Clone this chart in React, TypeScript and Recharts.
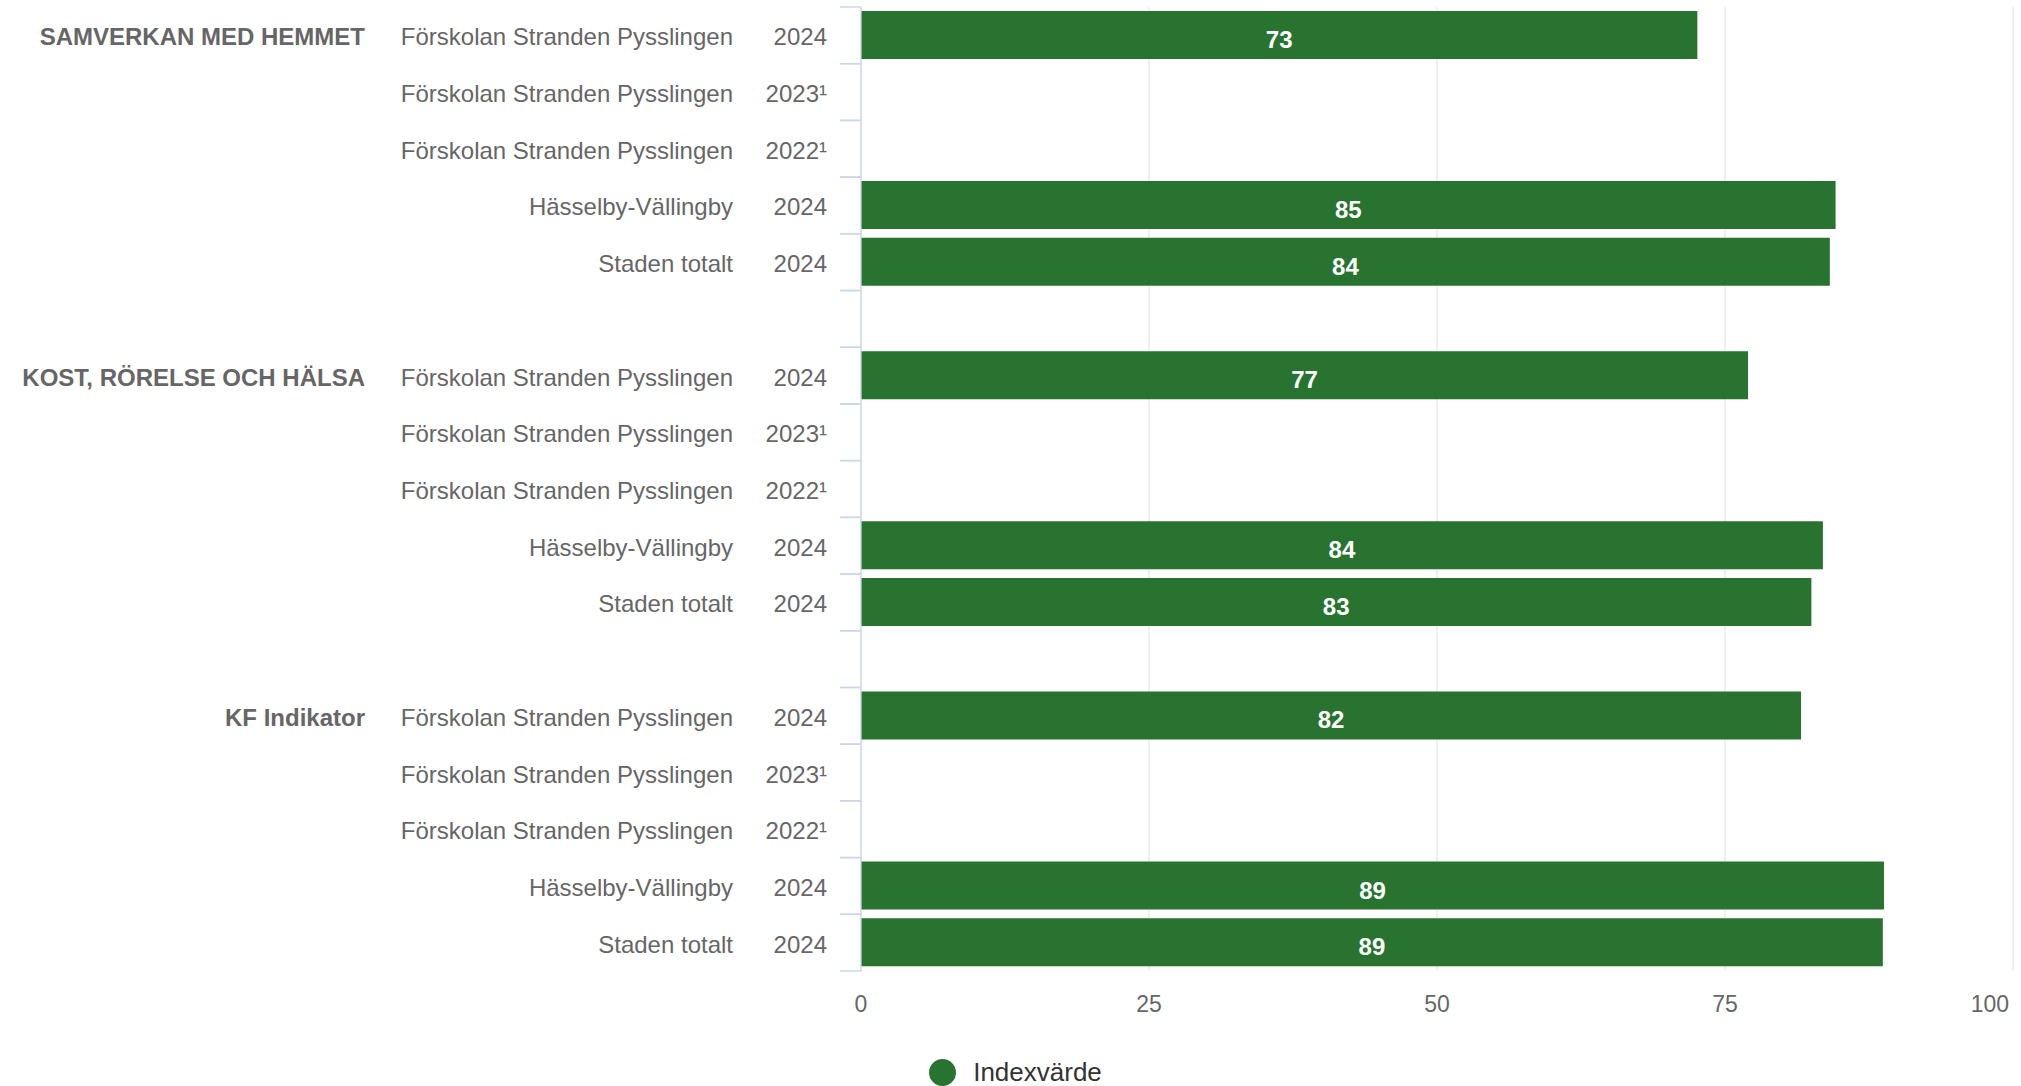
import { BarChart, Bar, XAxis, YAxis, CartesianGrid, Legend, LabelList } from 'recharts'

const groups = ['SAMVERKAN MED HEMMET', 'KOST, RÖRELSE OCH HÄLSA', 'KF Indikator']
const units = [
  'Förskolan Stranden Pysslingen',
  'Förskolan Stranden Pysslingen',
  'Förskolan Stranden Pysslingen',
  'Hässelby-Vällingby',
  'Staden totalt',
]
const years = ['2024', '2023¹', '2022¹', '2024', '2024']
const samverkanValues = [72.6, null, null, 84.6, 84.1]
const kostValues = [77.0, null, null, 83.5, 82.5]
const kfValues = [81.6, null, null, 88.8, 88.7]
const xTicks = [0, 25, 50, 75, 100]

const GREEN = '#27732f'
const FONT = '"Liberation Sans", Arial, sans-serif'
const W = 2021
const H = 1086
const MARGIN = { top: 7, right: 8, bottom: 55, left: 0 }
const X_AXIS_H = 60
const Y_AXIS_W = 861

type Row = { id: string; group: string; unit: string; year: string; value: number | null }

const groupValues = [samverkanValues, kostValues, kfValues]
const rows: Row[] = []
groups.forEach((g, gi) => {
  units.forEach((u, i) => {
    rows.push({ id: `${gi}-${i}`, group: i === 0 ? g : '', unit: u, year: years[i], value: groupValues[gi][i] })
  })
  if (gi < groups.length - 1) rows.push({ id: `gap-${gi}`, group: '', unit: '', year: '', value: null })
})

const plotH = H - MARGIN.top - MARGIN.bottom - X_AXIS_H
const HALF = plotH / rows.length / 2

function YTick(props: any) {
  const { x, y, payload } = props
  const row = rows.find((r) => r.id === payload.value)
  const half = payload.offset || HALF
  return (
    <g fontFamily={FONT} fontSize={24}>
      <line x1={x - 21} x2={x} y1={y - half} y2={y - half} stroke="#ccd6eb" strokeWidth={1.5} />
      <line x1={x - 21} x2={x} y1={y + half} y2={y + half} stroke="#ccd6eb" strokeWidth={1.5} />
      {row && row.group && (
        <text x={x - 496} y={y} dy={10} textAnchor="end" fill="#666" fontWeight="bold">
          {row.group}
        </text>
      )}
      {row && (
        <text x={x - 128} y={y} dy={10} textAnchor="end" fill="#666">
          {row.unit}
        </text>
      )}
      {row && (
        <text x={x - 34} y={y} dy={10} textAnchor="end" fill="#666">
          {row.year}
        </text>
      )}
    </g>
  )
}

function XTick(props: any) {
  const { x, y, payload } = props
  const last = payload.value === xTicks[xTicks.length - 1]
  return (
    <text x={x} y={y} dy={41} textAnchor={last ? 'end' : 'middle'} fill="#666" fontSize={23} fontFamily={FONT}>
      {payload.value}
    </text>
  )
}

function BarLabel(props: any) {
  const { x, y, width, height, value } = props
  if (value == null) return null
  return (
    <text
      x={x + width / 2}
      y={y + height / 2}
      dy={13}
      textAnchor="middle"
      fill="#fff"
      fontSize={24}
      fontWeight="bold"
      fontFamily={FONT}
    >
      {Math.round(value)}
    </text>
  )
}

function LegendContent(props: any) {
  const item = (props.payload || [])[0]
  return (
    <div style={{ display: 'flex', justifyContent: 'center', alignItems: 'center', paddingLeft: 10, height: 30 }}>
      <span style={{ width: 27, height: 27, borderRadius: '50%', background: item?.color || GREEN, marginRight: 17 }} />
      <span style={{ fontFamily: FONT, fontSize: 26, color: '#333' }}>{item?.value || 'Indexvärde'}</span>
    </div>
  )
}

export default function App() {
  return (
    <div style={{ position: 'absolute', left: 0, top: 0, width: W, height: H, background: '#fff' }}>
      <BarChart width={W} height={H} data={rows} layout="vertical" margin={MARGIN}>
        <CartesianGrid horizontal={false} stroke="#e6e6e6" strokeWidth={1.3} />
        <XAxis
          type="number"
          domain={[0, 100]}
          ticks={xTicks}
          axisLine={false}
          tickLine={false}
          tickSize={0}
          tickMargin={0}
          height={X_AXIS_H}
          tick={<XTick />}
        />
        <YAxis
          type="category"
          dataKey="id"
          width={Y_AXIS_W}
          interval={0}
          axisLine={{ stroke: '#ccd6eb', strokeWidth: 1.3 }}
          tickLine={false}
          tickSize={0}
          tickMargin={0}
          tick={<YTick />}
        />
        <Legend
          layout="horizontal"
          verticalAlign="middle"
          align="center"
          wrapperStyle={{ top: 1057, left: 0, width: W }}
          content={<LegendContent />}
        />
        <Bar dataKey="value" name="Indexvärde" fill={GREEN} barSize={48} isAnimationActive={false}>
          <LabelList dataKey="value" content={<BarLabel />} />
        </Bar>
      </BarChart>
    </div>
  )
}
